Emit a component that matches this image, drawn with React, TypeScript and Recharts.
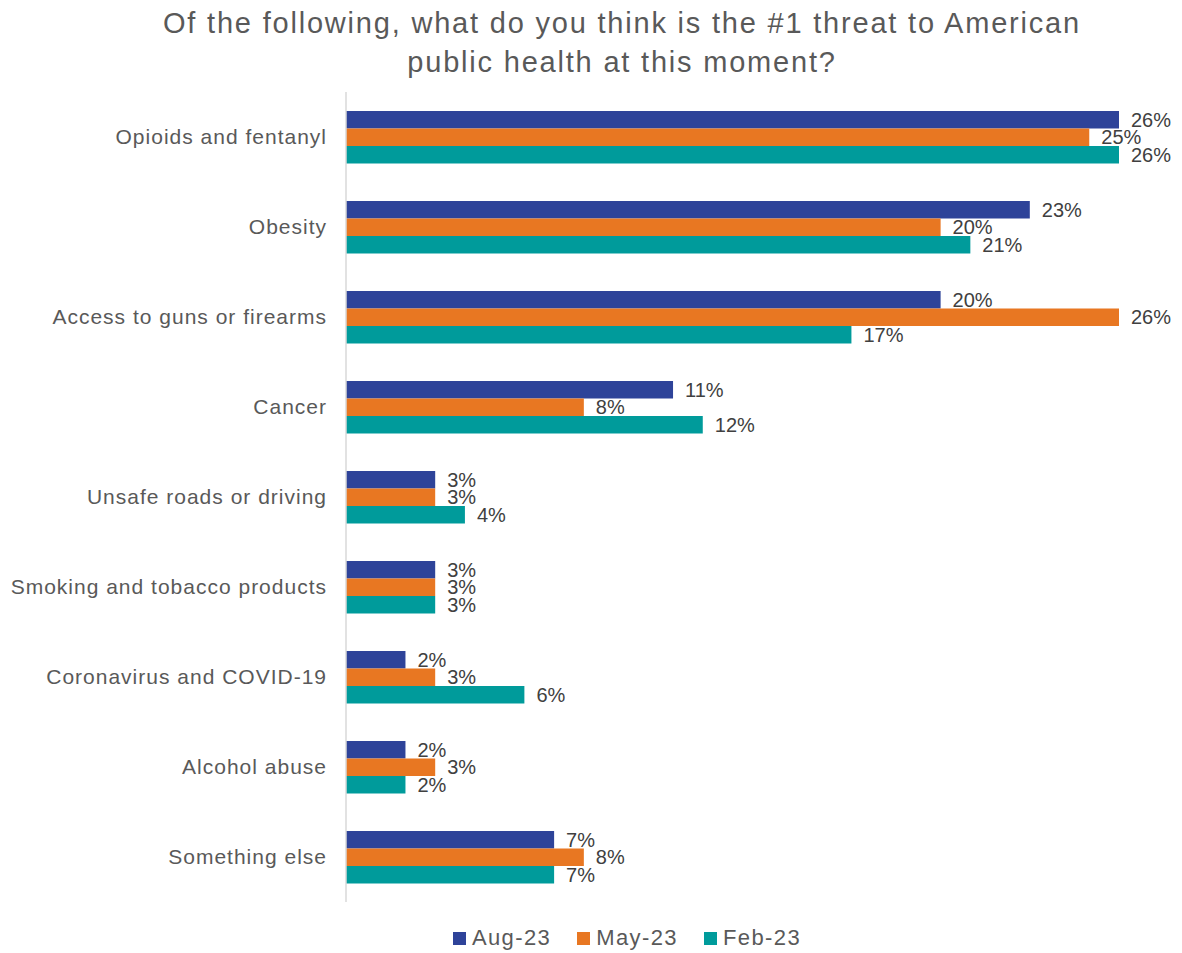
import React from 'react';
import { BarChart, Bar, XAxis, YAxis, LabelList, Legend } from 'recharts';

const categories = [
  'Opioids and fentanyl',
  'Obesity',
  'Access to guns or firearms',
  'Cancer',
  'Unsafe roads or driving',
  'Smoking and tobacco products',
  'Coronavirus and COVID-19',
  'Alcohol abuse',
  'Something else',
];
const aug23 = [26, 23, 20, 11, 3, 3, 2, 2, 7];
const may23 = [25, 20, 26, 8, 3, 3, 3, 3, 8];
const feb23 = [26, 21, 17, 12, 4, 3, 6, 2, 7];
const seriesNames = ['Aug-23', 'May-23', 'Feb-23'];
const seriesKeys = ['aug', 'may', 'feb'];
const seriesColors = ['#2E4399', '#E87722', '#009B9B'];
const titleLines = [
  'Of the following, what do you think is the #1 threat to American',
  'public health at this moment?',
];

const data = categories.map((name, i) => ({
  name,
  aug: aug23[i],
  may: may23[i],
  feb: feb23[i],
}));

const FONT = '"Liberation Sans", Arial, sans-serif';

const LegendContent = () => (
  <div
    style={{
      display: 'flex',
      justifyContent: 'center',
      alignItems: 'center',
      height: 24,
      fontFamily: FONT,
      fontSize: 22,
      letterSpacing: 1.4,
      color: '#595959',
    }}
  >
    {seriesNames.map((n, i) => (
      <div key={n} style={{ display: 'flex', alignItems: 'center', marginRight: i < 2 ? 26 : 0 }}>
        <div style={{ width: 13, height: 13, background: seriesColors[i], marginRight: 6 }} />
        <span>{n}</span>
      </div>
    ))}
  </div>
);

export default function App() {
  return (
    <div style={{ position: 'absolute', left: 0, top: 0, width: 1182, height: 953, background: '#fff' }}>
      <svg width={1182} height={90} style={{ position: 'absolute', left: 0, top: 0 }}>
        {titleLines.map((t, i) => (
          <text
            key={i}
            x={622}
            y={33 + i * 39}
            textAnchor="middle"
            fontFamily={FONT}
            fontSize={29}
            letterSpacing={1.8}
            fill="#595959"
          >
            {t}
          </text>
        ))}
      </svg>
      <div style={{ position: 'absolute', left: 0, top: 0 }}>
        <BarChart
          width={1182}
          height={953}
          data={data}
          layout="vertical"
          margin={{ top: 92, right: 63, bottom: 27, left: 0 }}
          barGap={0}
          barSize={17.5}
        >
          <XAxis type="number" domain={[0, 26]} hide />
          <YAxis
            type="category"
            dataKey="name"
            width={346}
            tickLine={false}
            tickSize={0}
            tickMargin={19}
            axisLine={{ stroke: '#D9D9D9', strokeWidth: 1.5 }}
            tick={{ fill: '#595959', fontSize: 21, fontFamily: FONT, letterSpacing: 1 }}
            interval={0}
          />
          <Legend
            verticalAlign="bottom"
            content={<LegendContent />}
            wrapperStyle={{ top: 926, bottom: 'auto', left: 72, width: 1110, height: 24 }}
          />
          {seriesKeys.map((k, i) => (
            <Bar key={k} dataKey={k} name={seriesNames[i]} fill={seriesColors[i]} isAnimationActive={false}>
              <LabelList
                dataKey={k}
                position="right"
                offset={12}
                formatter={(v: number) => `${v}%`}
                fill="#404040"
                fontSize={20}
                fontFamily={FONT}
              />
            </Bar>
          ))}
        </BarChart>
      </div>
    </div>
  );
}
